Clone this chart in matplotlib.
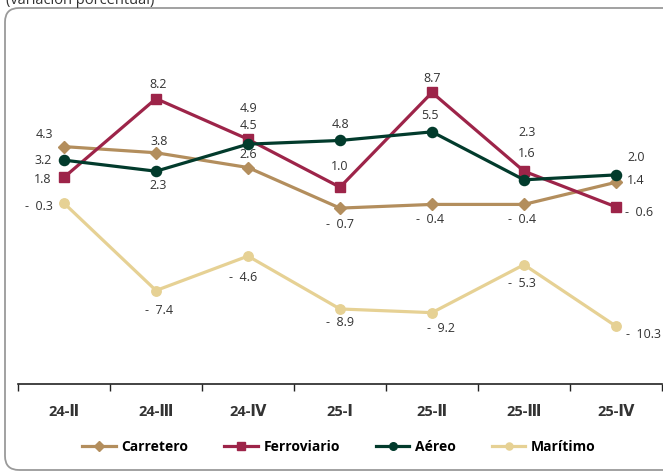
import matplotlib
matplotlib.use("Agg")
import matplotlib.pyplot as plt
import matplotlib.patches as mpatches
from matplotlib.transforms import IdentityTransform
import numpy as np

plt.rcParams['font.family'] = ['Open Sans', 'DejaVu Sans']

categories = ["24-Ⅱ", "24-Ⅲ", "24-Ⅳ", "25-Ⅰ", "25-Ⅱ", "25-Ⅲ", "25-Ⅳ"]
carretero = [4.3, 3.8, 2.6, -0.7, -0.4, -0.4, 1.4]
ferroviario = [1.8, 8.2, 4.9, 1.0, 8.7, 2.3, -0.6]
aereo = [3.2, 2.3, 4.5, 4.8, 5.5, 1.6, 2.0]
maritimo = [-0.3, -7.4, -4.6, -8.9, -9.2, -5.3, -10.3]

series = [
    ("Carretero", carretero, "#B38E5D", "D", 6.3, 3,
     [(-20, 12), (3, 11), (0, 13), (0, -16), (-2, -15), (-2, -15), (20, 2)]),
    ("Ferroviario", ferroviario, "#9D2449", "s", 7, 4,
     [(-21, -2), (2, 14), (0, 31), (0, 21), (0, 14), (3, 39), (23, -6)]),
    ("Aéreo", aereo, "#023B2C", "o", 7.3, 5,
     [(-21, 0), (2, -14), (0, 19), (0, 16), (-2, 16), (3, 26), (20, 17)]),
    ("Marítimo", maritimo, "#E6D194", "o", 6.8, 2,
     [(-25, -3), (3, -20), (-5, -21), (0, -14), (9, -16), (-2, -19), (28, -8)]),
]

W, H = 663, 475
fig = plt.figure(figsize=(W / 100, H / 100), dpi=100)
fig.patch.set_facecolor("white")

# rounded border
border = mpatches.FancyBboxPatch((5, H - 470), 675, 462,
                                 boxstyle="round,pad=0,rounding_size=14",
                                 transform=IdentityTransform(),
                                 facecolor="none", edgecolor="#9a9a9a", lw=1.3)
fig.add_artist(border)

fig.text(6 / W, 1 - 4 / H, "(variación porcentual)", fontsize=10.5,
         color="#333333", va="baseline", ha="left")

ax = fig.add_axes([18 / W, (H - 384) / H, 644 / W, 369 / H])
ax.set_facecolor("none")
x = np.arange(len(categories))

def fmt(v):
    return f"-  {abs(v):.1f}" if v < 0 else f"{v:.1f}"

for name, vals, color, marker, ms, z, offs in series:
    ax.plot(x, vals, color=color, lw=2.3, marker=marker, markersize=ms,
            label=name, zorder=z)
    for xi, v, (dx, dy) in zip(x, vals, offs):
        ax.annotate(fmt(v), (xi, v), xytext=(dx, dy), textcoords="offset pixels",
                    ha="center", va="center", fontsize=9, color="#333333",
                    zorder=10)

ax.set_xlim(-0.5, len(categories) - 0.5)
ax.set_ylim(-15, 15)
for s in ["top", "right", "left"]:
    ax.spines[s].set_visible(False)
ax.spines["bottom"].set_color("#222222")
ax.spines["bottom"].set_linewidth(1.2)
ax.set_yticks([])
ax.set_xticks(x)
ax.set_xticklabels(categories, fontsize=10.5, fontweight="bold", color="#333333")
ax.tick_params(axis="x", which="major", length=0, pad=15)
ax.set_xticks(np.arange(-0.5, len(categories)), minor=True)
ax.tick_params(axis="x", which="minor", length=5, width=1, color="#222222",
               direction="out")

handles, labels = ax.get_legend_handles_labels()
fig.legend(handles, labels, loc="center", bbox_to_anchor=(339 / W, 1 - 447 / H),
           ncol=4, frameon=False, prop={"weight": "bold", "size": 10},
           markerscale=0.75, handlelength=2.4, handletextpad=0.4,
           columnspacing=2.6)

fig.savefig("out.png", dpi=100, facecolor="white")
